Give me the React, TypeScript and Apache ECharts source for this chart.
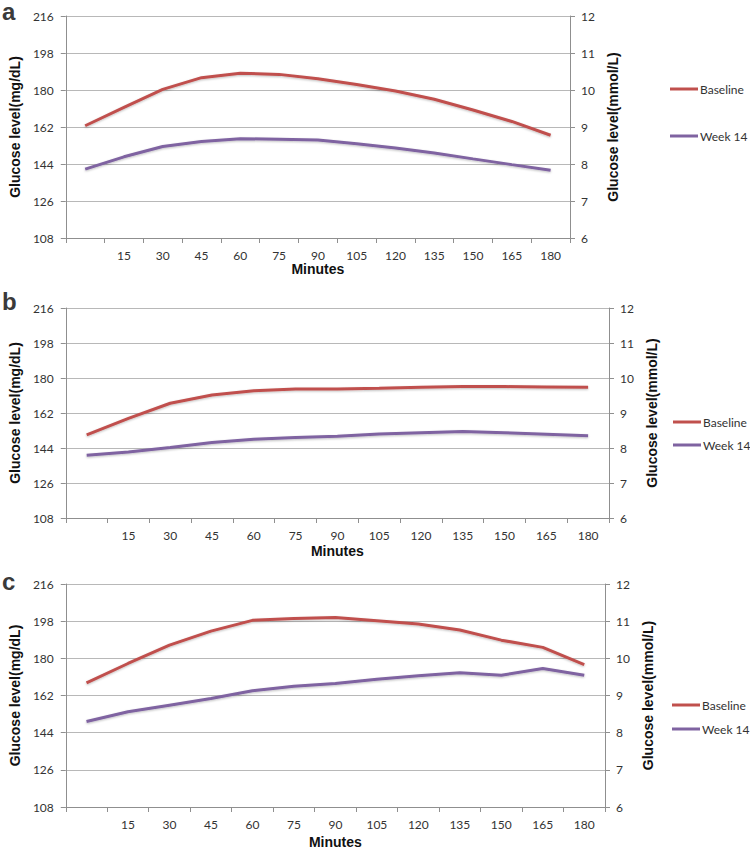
import React, { useEffect, useRef } from "react";
import * as echarts from "echarts";

const minutes = ["", "15", "30", "45", "60", "75", "90", "105", "120", "135", "150", "165", "180"];
const seriesNames = ["Baseline", "Week 14"];
const panelLetters = ["a", "b", "c"];

const mgMin = 108;
const mgMax = 216;
const mgStep = 18;
const mmolMin = 6;
const mmolMax = 12;
const mmolStep = 1;

const baselineA = [162.6, 171.5, 180.3, 186.0, 188.2, 187.6, 185.5, 182.7, 179.5, 175.5, 170.3, 164.7, 158.0];
const week14A = [141.5, 147.5, 152.5, 155.0, 156.3, 156.1, 155.7, 153.9, 151.8, 149.4, 146.5, 143.7, 141.0];
const baselineB = [150.7, 159.2, 167.0, 171.3, 173.4, 174.4, 174.4, 174.7, 175.2, 175.6, 175.6, 175.4, 175.2];
const week14B = [140.3, 141.9, 144.3, 146.8, 148.5, 149.4, 150.1, 151.2, 151.9, 152.5, 151.9, 151.1, 150.3];
const baselineC = [168.1, 177.5, 186.4, 193.2, 198.4, 199.3, 199.8, 198.2, 196.6, 193.7, 188.8, 185.3, 176.9];
const week14C = [149.4, 154.1, 157.3, 160.5, 164.3, 166.5, 167.8, 169.9, 171.6, 173.0, 171.8, 175.1, 171.8];

const panelData = [
  [baselineA, week14A],
  [baselineB, week14B],
  [baselineC, week14C],
];

const COLORS = ["#c0504d", "#7f63a1"];

// layout per panel
const grids = [
  { left: 52, top: 16, width: 518, height: 222 },
  { left: 50, top: 308, width: 559, height: 210 },
  { left: 52, top: 584, width: 553, height: 223 },
];
const letterY = [19.5, 309.5, 589.5];
const legendPos = [
  { left: 670, top: 83, gap: 35 },
  { left: 673, top: 416, gap: 11 },
  { left: 672, top: 699, gap: 12 },
];
const rightNameGap = [32, 31, 32];
const xNameGap = [21, 26, 28];

const AXIS_COLOR = "#8f8f8f";
const GRID_COLOR = "#b8b8b8";
const LABEL_FONT = "Lato";
const TITLE_FONT = "Liberation Sans";

export default function App() {
  const ref = useRef<HTMLDivElement>(null);

  useEffect(() => {
    if (!ref.current) return;
    const chart = echarts.init(ref.current, undefined, { renderer: "svg" });

    const xAxis: any[] = [];
    const yAxis: any[] = [];
    const series: any[] = [];
    const legend: any[] = [];
    const graphic: any[] = [];

    grids.forEach((g, i) => {
      xAxis.push({
        type: "category",
        gridIndex: i,
        data: minutes,
        boundaryGap: true,
        axisLine: { show: true, lineStyle: { color: AXIS_COLOR, width: 1 } },
        axisTick: { show: true, length: 5, lineStyle: { color: AXIS_COLOR } },
        axisLabel: { interval: 0, color: "#333", fontFamily: LABEL_FONT, fontSize: 12, margin: 11 },
        splitLine: { show: false },
        name: "Minutes",
        nameLocation: "middle",
        nameGap: xNameGap[i],
        nameTextStyle: { fontFamily: TITLE_FONT, fontWeight: "bold", fontSize: 14, color: "#111" },
      });
      yAxis.push({
        type: "value",
        gridIndex: i,
        position: "left",
        min: mgMin,
        max: mgMax,
        interval: mgStep,
        axisLine: { show: true, lineStyle: { color: AXIS_COLOR, width: 1 } },
        axisTick: { show: true, length: 5, lineStyle: { color: AXIS_COLOR } },
        axisLabel: { color: "#333", fontFamily: LABEL_FONT, fontSize: 12, margin: 12 },
        splitLine: { show: true, lineStyle: { color: GRID_COLOR, width: 1 } },
        name: "Glucose level(mg/dL)",
        nameLocation: "middle",
        nameRotate: 90,
        nameGap: 33,
        nameTextStyle: { fontFamily: TITLE_FONT, fontWeight: "bold", fontSize: 14, color: "#111" },
      });
      yAxis.push({
        type: "value",
        gridIndex: i,
        position: "right",
        min: mmolMin,
        max: mmolMax,
        interval: mmolStep,
        axisLine: { show: true, lineStyle: { color: AXIS_COLOR, width: 1 } },
        axisTick: { show: true, length: 5, lineStyle: { color: AXIS_COLOR } },
        axisLabel: { color: "#333", fontFamily: LABEL_FONT, fontSize: 12, margin: 11 },
        splitLine: { show: false },
        name: "Glucose level(mmol/L)",
        nameLocation: "middle",
        nameRotate: 90,
        nameGap: rightNameGap[i],
        nameTextStyle: { fontFamily: TITLE_FONT, fontWeight: "bold", fontSize: 14, color: "#111" },
      });
      panelData[i].forEach((vals, s) => {
        series.push({
          type: "line",
          name: seriesNames[s],
          xAxisIndex: i,
          yAxisIndex: i * 2,
          data: vals,
          symbol: "none",
          lineStyle: {
            color: COLORS[s],
            width: 3,
            shadowColor: "rgba(0,0,0,0.25)",
            shadowBlur: 2,
            shadowOffsetY: 1,
          },
          itemStyle: { color: COLORS[s] },
        });
      });
      legend.push({
        data: seriesNames,
        orient: "vertical",
        left: legendPos[i].left,
        top: legendPos[i].top,
        padding: 0,
        itemGap: legendPos[i].gap,
        icon: "rect",
        itemWidth: 28,
        itemHeight: 3,
        selectedMode: false,
        textStyle: { fontFamily: LABEL_FONT, fontSize: 12, color: "#333", padding: [0, 0, 0, -3] },
      });
      graphic.push({
        type: "text",
        x: 2,
        y: letterY[i] - 8.5,
        style: {
          text: panelLetters[i],
          font: "bold 24px 'Liberation Sans'",
          lineHeight: 18,
          fill: "#3a3a3a",
          verticalAlign: "middle",
        },
      });
    });

    chart.setOption({
      animation: false,
      backgroundColor: "#ffffff",
      grid: grids.map((g) => ({ ...g, containLabel: false })),
      xAxis,
      yAxis,
      series,
      legend,
      graphic,
    });

    return () => chart.dispose();
  }, []);

  return (
    <div
      ref={ref}
      style={{ position: "absolute", left: 0, top: 0, width: 750, height: 850 }}
    />
  );
}
